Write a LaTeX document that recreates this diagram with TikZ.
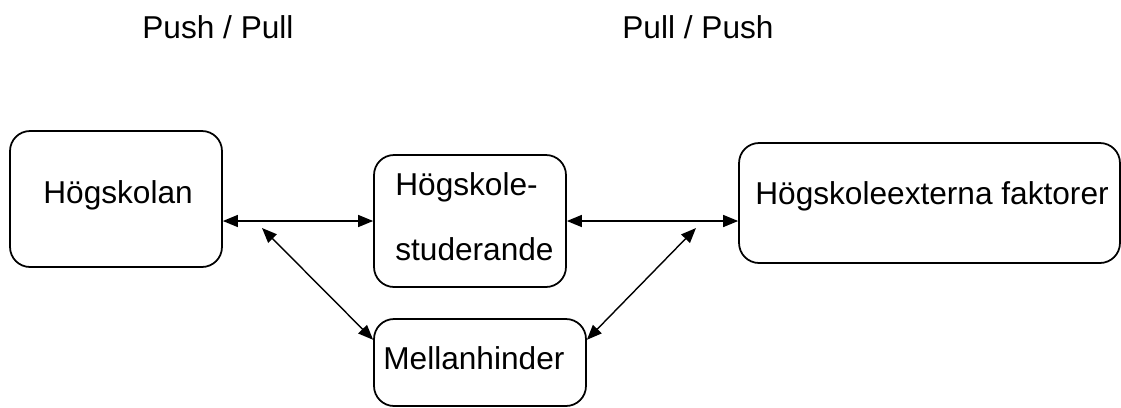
\documentclass[tikz,border=0pt]{standalone}
\usepackage{fontspec}
\setmainfont{Liberation Sans}
\usetikzlibrary{arrows.meta}

\begin{document}
\begin{tikzpicture}[
    x=0.02cm,
    y=-0.02cm,
    box/.style={
        draw,
        line width=1pt,
        rounded corners=0.4cm,
        inner sep=0pt
    },
    box text/.style={
        anchor=base west,
        inner sep=0pt,
        align=left,
        font=\fontsize{18}{37}\selectfont
    },
    link/.style={
        draw,
        line width=0.8pt,
        {Triangle[length=0.3cm,width=0.24cm]}-{Triangle[length=0.3cm,width=0.24cm]}
    },
    ]
    \useasboundingbox (0,0) rectangle (1121,407);

    % headings
    \node [box text] (push pull) at (142,38) {Push / Pull};
    \node [box text] (pull push) at (622,38) {Pull / Push};

    % boxes
    \node [box, minimum width=4.24cm, minimum height=2.72cm] (hogskolan) at (116,199) {};
    \node [box, minimum width=3.84cm, minimum height=2.64cm] (studerande) at (470,221) {};
    \node [box, minimum width=7.62cm, minimum height=2.4cm] (externa) at (929.5,203) {};
    \node [box, minimum width=4.24cm, minimum height=1.74cm] (mellanhinder) at (480,362.5) {};

    \node [box text] (hogskolan text) at (43,203) {Högskolan};
    \node [box text] (studerande text) at (395,260) {Högskole-\\studerande};
    \node [box text] (externa text) at (755,204) {Högskoleexterna faktorer};
    \node [box text] (mellanhinder text) at (383,369) {Mellanhinder};

    % links
    \coordinate (left end) at (262,228);
    \coordinate (right end) at (696,228);
    \draw [link] (hogskolan.east |- studerande.west) -- (studerande.west);
    \draw [link] (studerande.east) -- (studerande.east -| externa.west);
    \draw [link] (left end) -- (mellanhinder.168);
    \draw [link] (right end) -- (mellanhinder.12);
\end{tikzpicture}
\end{document}
